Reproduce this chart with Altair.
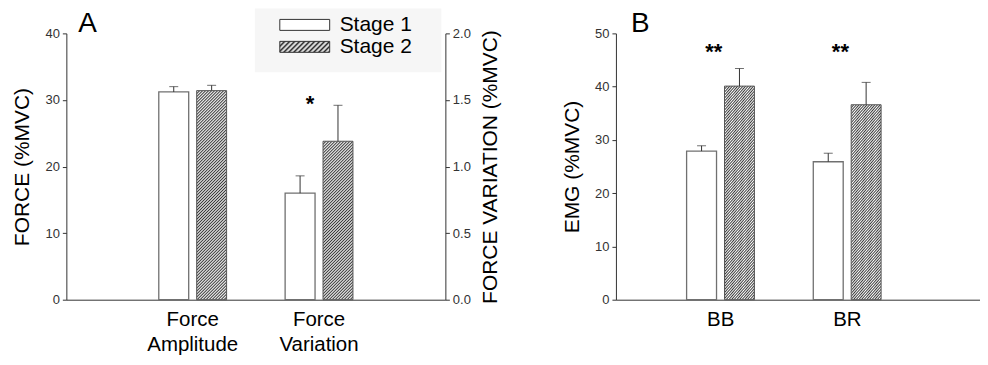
import altair as alt
import pandas as pd

FONT = "Liberation Sans"

stages = ["Stage 1", "Stage 2"]

# Panel A
groups_a = ["Force Amplitude", "Force Variation"]
amp_mean = [31.2, 31.4]      # left axis, %MVC
amp_err = [0.8, 0.8]
var_mean = [0.80, 1.19]      # right axis, %MVC
var_err = [0.13, 0.27]
sig_a_label = ["*"]
sig_a_group = ["Force Variation"]
sig_a_y = [1.42]

# Panel B
groups_b = ["BB", "BR"]
bb_mean = [27.9, 40.1]
bb_err = [1.0, 3.3]
br_mean = [25.9, 36.6]
br_err = [1.6, 4.2]
sig_b_label = ["**", "**"]
sig_b_y = [45.2, 45.2]

# ---------------- layout / style constants ----------------
WA, WB, H = 380, 365, 267
BAR_A, BAR_B = 30, 34
YMAX_A_L, YMAX_A_R, YMAX_B = 40, 2, 50
EDGE = "#333333"


def hatch(w, h, period=3.0, n=85, dark="#3c3c3c", light="#ffffff"):
    # diagonal "/" stripes, fixed pixel period, soft (triangle) profile to avoid aliasing
    a = period * n / (w * w + h * h)
    stops = []
    for k in range(n):
        stops.append({"offset": k / n, "color": dark})
        stops.append({"offset": (k + 0.5) / n, "color": light})
    stops.append({"offset": 1.0, "color": dark})
    return {"gradient": "linear", "x1": 0, "y1": 0, "x2": w * a, "y2": h * a, "stops": stops}


def make_df(groups, means, errs):
    rows = []
    for g, m, e in zip(groups, means, errs):
        for s, mv, ev in zip(stages, m, e):
            rows.append({"group": g, "stage": s, "mean": mv, "err": ev, "hi": mv + ev})
    return pd.DataFrame(rows)


df_amp = make_df([groups_a[0]], [amp_mean], [amp_err])
df_var = make_df([groups_a[1]], [var_mean], [var_err])
df_b = make_df(groups_b, [bb_mean, br_mean], [bb_err, br_err])

x_axis = alt.Axis(
    title=None, ticks=False, labelExpr="split(datum.label, ' ')", labelFontSize=20.5,
    labelColor="#000", labelPadding=10, labelLineHeight=25, labelAngle=0,
    domainColor=EDGE, labelFont=FONT,
)

xA = alt.X("group:N", scale=alt.Scale(domain=groups_a, paddingInner=0, paddingOuter=0.5), axis=x_axis)
xoA = alt.XOffset("stage:N", scale=alt.Scale(domain=stages, paddingInner=0.2105, paddingOuter=0.772))
xB = alt.X("group:N", scale=alt.Scale(domain=groups_b, paddingInner=0, paddingOuter=0.437, align=0.374), axis=x_axis)
xoB = alt.XOffset("stage:N", scale=alt.Scale(domain=stages, paddingInner=0.2, paddingOuter=0.594))


def y_axis(title, values, fmt, orient="left", angle=270, baseline=None, pad=12):
    kw = dict(
        title=title, values=values, format=fmt, orient=orient, tickSize=4, labelPadding=3,
        titlePadding=pad, titleFontSize=21, titleFontWeight="normal", titleColor="#000",
        labelFontSize=13, labelColor="#333", domainColor=EDGE, tickColor=EDGE, grid=False,
        titleAngle=angle, labelFont=FONT, titleFont=FONT,
    )
    if baseline:
        kw["titleBaseline"] = baseline
    return alt.Axis(**kw)


def bar_group(df, x, xo, y_enc, bar_w, px_per_unit):
    layers = []
    white = alt.Chart(df).transform_filter(alt.datum.stage == stages[0]).mark_bar(
        fill="white", stroke="#707070", strokeWidth=1.3
    ).encode(x=x, xOffset=xo, y=y_enc)
    layers.append(white)
    for _, row in df[df.stage == stages[1]].iterrows():
        h = row["mean"] * px_per_unit
        hb = alt.Chart(df).transform_filter(
            (alt.datum.stage == stages[1]) & (alt.datum.group == row["group"])
        ).mark_bar(fill=hatch(bar_w, h), stroke="#555555", strokeWidth=1).encode(
            x=x, xOffset=xo, y=y_enc
        )
        layers.append(hb)
    rule = alt.Chart(df).mark_rule(color=EDGE, strokeWidth=1).encode(
        x=x, xOffset=xo, y="mean:Q", y2="hi:Q"
    )
    cap = alt.Chart(df).mark_tick(color=EDGE, size=9, thickness=1).encode(
        x=x, xOffset=xo, y="hi:Q"
    )
    layers += [rule, cap]
    return layers


def one(values):
    return alt.Data(values=[values])


# ---------------- Panel A ----------------
yA_left = alt.Y("mean:Q", scale=alt.Scale(domain=[0, YMAX_A_L], nice=False),
                axis=y_axis("FORCE (%MVC)", [0, 10, 20, 30, 40], "d"))
yA_right = alt.Y("mean:Q", scale=alt.Scale(domain=[0, YMAX_A_R], nice=False),
                 axis=y_axis("FORCE VARIATION (%MVC)", [0, 0.5, 1, 1.5, 2], ".1f",
                             orient="right", angle=270, baseline="top", pad=9))

letter_a = alt.Chart(one({"t": "A"})).mark_text(
    fontSize=28, align="left", baseline="alphabetic", font=FONT, color="#000"
).encode(text="t:N", x=alt.value(12), y=alt.value(-1))

leg_bg = alt.Chart(one({"k": 0})).mark_rect(fill="#f6f6f6").encode(
    x=alt.value(189), x2=alt.value(376), y=alt.value(-25), y2=alt.value(39))
leg_s1 = alt.Chart(one({"k": 0})).mark_rect(fill="white", stroke=EDGE, strokeWidth=1).encode(
    x=alt.value(214), x2=alt.value(264), y=alt.value(-14), y2=alt.value(-3))
leg_s2 = alt.Chart(one({"k": 0})).mark_rect(
    fill=hatch(50, 11, period=5.0, n=51, dark="#2a2a2a"), stroke=EDGE, strokeWidth=1
).encode(x=alt.value(214), x2=alt.value(264), y=alt.value(8), y2=alt.value(19))
leg_t1 = alt.Chart(one({"t": stages[0]})).mark_text(
    fontSize=21, align="left", baseline="middle", font=FONT, color="#000"
).encode(text="t:N", x=alt.value(274), y=alt.value(-8.5))
leg_t2 = alt.Chart(one({"t": stages[1]})).mark_text(
    fontSize=21, align="left", baseline="middle", font=FONT, color="#000"
).encode(text="t:N", x=alt.value(274), y=alt.value(13.5))

left_layers = bar_group(df_amp, xA, xoA, yA_left, BAR_A, H / YMAX_A_L)
left = alt.layer(*left_layers, letter_a, leg_bg, leg_s1, leg_s2, leg_t1, leg_t2)

df_sig_a = pd.DataFrame({"group": sig_a_group, "label": sig_a_label, "mean": sig_a_y})
star_a = alt.Chart(df_sig_a).mark_text(
    fontSize=22, fontWeight="bold", baseline="alphabetic", dx=-9, font=FONT, color="#000"
).encode(x=xA, y="mean:Q", text="label:N")

right_layers = bar_group(df_var, xA, xoA, yA_right, BAR_A, H / YMAX_A_R)
right = alt.layer(*right_layers, star_a)

panelA = alt.layer(left, right).resolve_scale(y="independent").properties(width=WA, height=H)

# ---------------- Panel B ----------------
yB = alt.Y("mean:Q", scale=alt.Scale(domain=[0, YMAX_B], nice=False),
           axis=y_axis("EMG (%MVC)", [0, 10, 20, 30, 40, 50], "d"))

letter_b = alt.Chart(one({"t": "B"})).mark_text(
    fontSize=28, align="left", baseline="alphabetic", font=FONT, color="#000"
).encode(text="t:N", x=alt.value(15), y=alt.value(-1))

df_sig_b = pd.DataFrame({"group": groups_b, "label": sig_b_label, "mean": sig_b_y})
star_b = alt.Chart(df_sig_b).mark_text(
    fontSize=22, fontWeight="bold", baseline="alphabetic", dx=-7, font=FONT, color="#000"
).encode(x=xB, y="mean:Q", text="label:N")

panelB = alt.layer(*bar_group(df_b, xB, xoB, yB, BAR_B, H / YMAX_B), star_b, letter_b).properties(
    width=WB, height=H)

chart = alt.hconcat(panelA, panelB, spacing=60).properties(
    padding={"left": 3.5, "top": 0, "right": 0, "bottom": 0}
).configure_view(stroke=None).configure_axis(grid=False)

chart.save("out.html", embed_options={"renderer": "svg", "actions": False})
